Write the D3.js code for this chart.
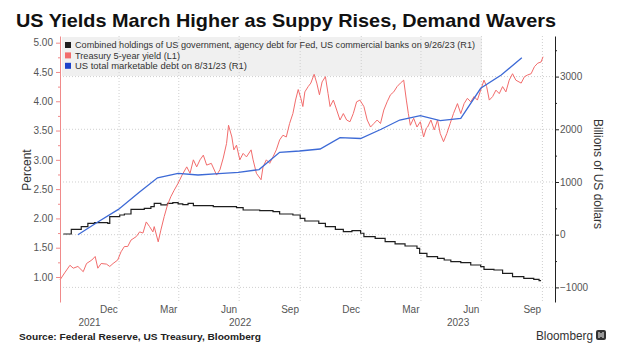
<!DOCTYPE html>
<html><head><meta charset="utf-8">
<script src="https://cdn.jsdelivr.net/npm/d3@7"></script>
<style>
html,body{margin:0;padding:0;background:#fff;}
svg{display:block;font-family:"Liberation Sans",Arial,sans-serif;}
</style></head><body>
<svg id="chart" width="620" height="356"></svg>
<script>
// ---------- DATA ----------
const titleText = "US Yields March Higher as Suppy Rises, Demand Wavers";
const sourceText = "Source: Federal Reserve, US Treasury, Bloomberg";
const legendLabels = [
  "Combined holdings of US government, agency debt for Fed, US commercial banks on 9/26/23 (R1)",
  "Treasury 5-year yield (L1)",
  "US total marketable debt on 8/31/23 (R1)"
];
const leftTicks = [1.00, 1.50, 2.00, 2.50, 3.00, 3.50, 4.00, 4.50, 5.00];
const rightTicks = [-1000, 0, 1000, 2000, 3000];
const monthLabels = ["Dec", "Mar", "Jun", "Sep", "Dec", "Mar", "Jun", "Sep"];
const monthLabelDates = ["2021-12-16","2022-03-16","2022-06-15","2022-09-15","2022-12-16","2023-03-16","2023-06-15","2023-09-15"];
const yearLabels = ["2021", "2022", "2023"];
const quarterDates = ["2022-01-01","2022-04-01","2022-07-01","2022-10-01","2023-01-01","2023-04-01","2023-07-01","2023-10-01"];
const xDomain = ["2021-10-04", "2023-10-20"];

// Treasury 5-year yield (L1), percent
const yieldDates = ["2021-10-04","2021-10-11","2021-10-19","2021-10-24","2021-10-31","2021-11-08","2021-11-13","2021-11-21","2021-11-26","2021-11-30","2021-12-05","2021-12-13","2021-12-18","2021-12-23","2021-12-30","2022-01-04","2022-01-09","2022-01-14","2022-01-19","2022-01-27","2022-02-01","2022-02-06","2022-02-11","2022-02-16","2022-02-21","2022-02-23","2022-03-01","2022-03-05","2022-03-10","2022-03-15","2022-03-20","2022-03-25","2022-03-31","2022-04-06","2022-04-13","2022-04-18","2022-04-23","2022-04-28","2022-05-03","2022-05-08","2022-05-13","2022-05-20","2022-05-28","2022-06-02","2022-06-07","2022-06-12","2022-06-15","2022-06-20","2022-06-23","2022-06-27","2022-07-02","2022-07-07","2022-07-12","2022-07-19","2022-07-22","2022-07-27","2022-08-03","2022-08-06","2022-08-11","2022-08-16","2022-08-21","2022-08-26","2022-08-31","2022-09-05","2022-09-10","2022-09-15","2022-09-20","2022-09-24","2022-09-28","2022-10-02","2022-10-05","2022-10-08","2022-10-13","2022-10-17","2022-10-22","2022-10-26","2022-10-30","2022-11-03","2022-11-08","2022-11-12","2022-11-15","2022-11-20","2022-11-25","2022-11-30","2022-12-05","2022-12-10","2022-12-15","2022-12-20","2022-12-25","2022-12-30","2023-01-05","2023-01-10","2023-01-15","2023-01-20","2023-01-25","2023-01-30","2023-02-04","2023-02-09","2023-02-14","2023-02-19","2023-02-24","2023-03-01","2023-03-06","2023-03-10","2023-03-13","2023-03-16","2023-03-21","2023-03-26","2023-03-31","2023-04-05","2023-04-09","2023-04-11","2023-04-16","2023-04-21","2023-04-26","2023-04-30","2023-05-05","2023-05-10","2023-05-15","2023-05-20","2023-05-26","2023-05-31","2023-06-05","2023-06-10","2023-06-15","2023-06-20","2023-06-25","2023-06-30","2023-07-05","2023-07-09","2023-07-13","2023-07-18","2023-07-23","2023-07-28","2023-08-02","2023-08-07","2023-08-12","2023-08-17","2023-08-22","2023-08-30","2023-09-04","2023-09-09","2023-09-14","2023-09-19","2023-09-24","2023-09-29","2023-10-02"];
const yieldValues = [0.95,1.07,1.20,1.15,1.18,1.09,1.23,1.29,1.35,1.15,1.23,1.22,1.18,1.23,1.29,1.43,1.52,1.52,1.63,1.69,1.77,1.75,1.94,1.86,1.77,1.86,1.60,1.80,2.03,2.23,2.37,2.48,2.60,2.74,2.88,2.77,3.00,2.88,3.00,3.08,2.91,2.94,2.74,2.83,3.03,3.28,3.59,3.39,3.17,3.25,3.00,3.11,3.05,3.17,3.00,2.77,2.66,2.88,3.00,2.94,3.05,3.17,3.34,3.42,3.39,3.62,3.79,4.02,4.20,4.05,3.91,4.16,4.25,4.31,4.46,4.31,4.11,4.33,4.42,4.13,3.91,4.02,3.85,3.68,3.79,3.68,3.65,3.79,3.99,4.02,3.91,3.68,3.56,3.62,3.68,3.62,3.85,3.99,4.11,4.16,4.25,4.31,4.36,4.02,3.79,3.59,3.71,3.56,3.65,3.39,3.54,3.56,3.68,3.51,3.68,3.45,3.31,3.45,3.62,3.79,3.96,3.79,3.96,4.05,3.99,4.08,4.02,4.19,4.36,4.25,4.02,4.08,4.19,4.13,4.25,4.16,4.36,4.47,4.36,4.31,4.42,4.45,4.47,4.59,4.65,4.67,4.76];

// US total marketable debt (R1), billions of US dollars
const debtDates = ["2021-10-31","2021-11-30","2021-12-31","2022-01-31","2022-02-28","2022-03-31","2022-04-30","2022-05-31","2022-06-30","2022-07-31","2022-08-31","2022-09-30","2022-10-31","2022-11-30","2022-12-31","2023-01-31","2023-02-28","2023-03-31","2023-04-30","2023-05-31","2023-06-30","2023-07-31","2023-08-31"];
const debtValues = [0,240,480,800,1080,1165,1133,1160,1184,1235,1563,1588,1626,1841,1825,2000,2176,2258,2163,2209,2778,3030,3359];

// Combined holdings of Fed + commercial banks (R1), billions of US dollars
const holdDates = ["2021-10-09","2021-10-21","2021-11-05","2021-11-15","2021-11-25","2021-12-15","2021-12-18","2022-01-02","2022-01-09","2022-01-19","2022-02-08","2022-02-18","2022-02-23","2022-03-05","2022-03-15","2022-03-23","2022-03-31","2022-04-07","2022-04-15","2022-04-23","2022-05-23","2022-06-27","2022-07-07","2022-08-01","2022-08-21","2022-08-31","2022-09-20","2022-10-01","2022-10-08","2022-10-29","2022-11-08","2022-11-23","2022-12-05","2022-12-18","2022-12-31","2023-01-05","2023-01-22","2023-02-06","2023-02-21","2023-03-08","2023-03-26","2023-03-30","2023-04-10","2023-04-26","2023-05-06","2023-05-16","2023-05-31","2023-06-15","2023-06-30","2023-07-05","2023-07-20","2023-08-02","2023-08-17","2023-09-03","2023-09-18","2023-09-26","2023-09-29"];
const holdValues = [13,102,152,216,228,216,342,374,393,482,500,531,596,564,596,607,583,570,596,550,531,512,469,455,436,393,374,311,260,216,152,102,57,76,27,-38,-68,-133,-176,-214,-258,-353,-417,-448,-480,-512,-531,-575,-607,-657,-670,-733,-797,-827,-846,-873,-873];

// ---------- CHART ----------
const svg = d3.select("#chart");
const parse = d3.timeParse("%Y-%m-%d");
const plot = {left: 60, right: 555, top: 36, bottom: 302};
const x = d3.scaleTime().domain(xDomain.map(parse)).range([plot.left, plot.right]);
const yL = d3.scaleLinear().domain([0.573, 5.114]).range([plot.bottom, plot.top]);
const yR = d3.scaleLinear().domain([-1277, 3770]).range([plot.bottom, plot.top]);

const pink = "#f08a8a", red = "#f26c6c", blue = "#3d6ad6", black = "#1e1e1e", grey = "#555";

// title
svg.append("text").attr("x", 16).attr("y", 27).attr("font-size", 19).attr("font-weight", "bold")
  .attr("fill", "#111").attr("textLength", 540).attr("lengthAdjust", "spacingAndGlyphs").text(titleText);

// legend background
svg.append("rect").attr("x", 62).attr("y", 37).attr("width", 420).attr("height", 39).attr("fill", "#f0f0f0");

// gridlines
const grid = svg.append("g");
grid.selectAll("line.h").data(rightTicks).join("line")
  .attr("x1", plot.left).attr("x2", plot.right).attr("y1", d => yR(d)).attr("y2", d => yR(d))
  .attr("stroke", "#cfcfcf").attr("stroke-dasharray", "1,2");
grid.selectAll("line.v").data(quarterDates.map(parse)).join("line")
  .attr("x1", d => x(d)).attr("x2", d => x(d)).attr("y1", plot.top).attr("y2", plot.bottom)
  .attr("stroke", "#cfcfcf").attr("stroke-dasharray", "1,2");

// lines
const holdData = holdDates.map((d, i) => ({d: parse(d), v: holdValues[i]}));
const debtData = debtDates.map((d, i) => ({d: parse(d), v: debtValues[i]}));
const yieldData = yieldDates.map((d, i) => ({d: parse(d), v: yieldValues[i]}));

svg.append("path").datum(holdData).attr("fill", "none").attr("stroke", black).attr("stroke-width", 1.2)
  .attr("d", d3.line().x(p => x(p.d)).y(p => yR(p.v)).curve(d3.curveStepAfter));
svg.append("path").datum(yieldData).attr("fill", "none").attr("stroke", red).attr("stroke-width", 1)
  .attr("d", d3.line().x(p => x(p.d)).y(p => yL(p.v)));
svg.append("path").datum(debtData).attr("fill", "none").attr("stroke", blue).attr("stroke-width", 1.3)
  .attr("d", d3.line().x(p => x(p.d)).y(p => yR(p.v)));

// legend
const legColors = [black, red, "#1d43c9"];
const legWidths = [400, 105, 172];
const leg = svg.append("g");
legendLabels.forEach((t, i) => {
  const cy = 45 + i * 10.4;
  leg.append("rect").attr("x", 65).attr("y", cy - 3).attr("width", 6).attr("height", 6).attr("fill", legColors[i]);
  leg.append("text").attr("x", 75).attr("y", cy + 3.3).attr("font-size", 9).attr("fill", "#333")
    .attr("textLength", legWidths[i]).attr("lengthAdjust", "spacingAndGlyphs").text(t);
});

// left axis
const gL = svg.append("g").attr("transform", `translate(${plot.left},0)`)
  .call(d3.axisLeft(yL).tickValues(leftTicks).tickSize(4).tickSizeOuter(0).tickPadding(3).tickFormat(d3.format(".2f")));
gL.select(".domain").attr("stroke", pink);
gL.selectAll(".tick line").attr("stroke", pink);
gL.selectAll(".tick text").attr("fill", grey).attr("font-size", 10).attr("font-family", "Liberation Sans, Arial, sans-serif");
const gLm = svg.append("g").attr("transform", `translate(${plot.left},0)`)
  .call(d3.axisLeft(yL).tickValues(leftTicks.slice(0, -1).map(v => v + 0.25)).tickSize(2).tickSizeOuter(0).tickFormat(""));
gLm.select(".domain").remove();
gLm.selectAll(".tick line").attr("stroke", pink);

// right axis
const gR = svg.append("g").attr("transform", `translate(${plot.right},0)`)
  .call(d3.axisRight(yR).tickValues(rightTicks).tickSize(4).tickSizeOuter(0).tickPadding(1).tickFormat(d3.format("d")));
gR.select(".domain").attr("stroke", "#222");
gR.selectAll(".tick line").attr("stroke", "#222");
gR.selectAll(".tick text").attr("fill", grey).attr("font-size", 10).attr("font-family", "Liberation Sans, Arial, sans-serif");
const gRm = svg.append("g").attr("transform", `translate(${plot.right},0)`)
  .call(d3.axisRight(yR).tickValues(rightTicks.map(v => v + 500)).tickSize(2).tickSizeOuter(0).tickFormat(""));
gRm.select(".domain").remove();
gRm.selectAll(".tick line").attr("stroke", "#222");

// axis titles
svg.append("text").attr("transform", "translate(31,170) rotate(-90)").attr("text-anchor", "middle")
  .attr("font-size", 12).attr("fill", "#333").text("Percent");
svg.append("text").attr("transform", "translate(594,174) rotate(90)").attr("text-anchor", "middle")
  .attr("font-size", 12).attr("fill", "#333").text("Billions of US dollars");

// bottom axis: month labels
const gX = svg.append("g").attr("transform", `translate(0,${plot.bottom})`)
  .call(d3.axisBottom(x).tickValues(monthLabelDates.map(parse)).tickSize(0).tickPadding(4)
    .tickFormat((d, i) => monthLabels[i]));
gX.select(".domain").remove();
gX.selectAll(".tick text").attr("fill", grey).attr("font-size", 10).attr("font-family", "Liberation Sans, Arial, sans-serif");

// year labels centered on visible span of each year
const x0 = x.domain()[0], x1 = x.domain()[1];
yearLabels.forEach(y => {
  const s = d3.max([x0, parse(y + "-01-01")]);
  const e = d3.min([x1, parse((+y + 1) + "-01-01")]);
  svg.append("text").attr("x", (x(s) + x(e)) / 2).attr("y", 326).attr("text-anchor", "middle")
    .attr("font-size", 10).attr("fill", grey).text(y);
});

// footer
svg.append("text").attr("x", 19).attr("y", 340).attr("font-size", 9.5).attr("font-weight", "bold")
  .attr("fill", "#222").attr("textLength", 242).attr("lengthAdjust", "spacingAndGlyphs").text(sourceText);
svg.append("text").attr("x", 536).attr("y", 340).attr("font-size", 12).attr("fill", "#333")
  .attr("textLength", 57).attr("lengthAdjust", "spacingAndGlyphs").text("Bloomberg");
svg.append("rect").attr("x", 596).attr("y", 330).attr("width", 10).attr("height", 10).attr("rx", 2).attr("fill", "#333");
svg.append("path").attr("d", "M599,332 L599,338 M601,333 L601,337 M603,332 L603,338").attr("stroke", "#fff").attr("stroke-width", 1);
</script></body></html>
